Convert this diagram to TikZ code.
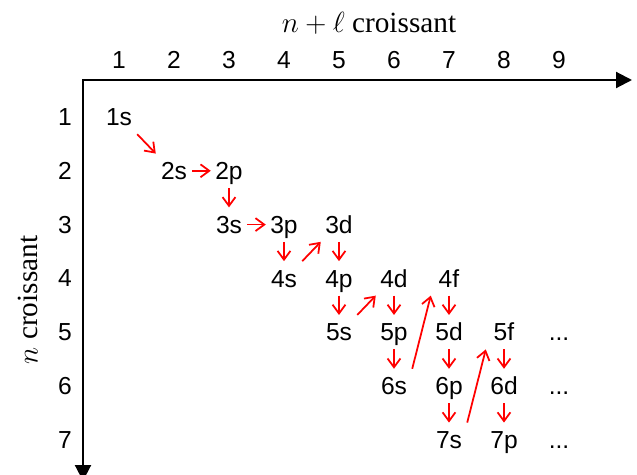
\documentclass[tikz,border=0pt]{standalone}
\usepackage{fontspec}
\setmainfont{Liberation Serif}
\newfontfamily\arialfont{Liberation Sans}
\usetikzlibrary{arrows.meta}

\begin{document}
\begin{tikzpicture}[x=0.03cm, y=-0.03cm,
  orb/.style={font=\arialfont\fontsize{21}{25}\selectfont, inner sep=0pt, minimum width=1.08cm, minimum height=1.02cm, text height=18pt, text depth=3pt},
  num/.style={font=\arialfont\fontsize{21}{25}\selectfont, inner sep=0pt},
  fl/.style={red, line width=1.5pt, -{Straight Barb[length=7.5pt,width=11pt]}},
  axe/.style={line width=1.8pt, {Triangle[length=13.6pt,width=13.6pt]}-{Triangle[length=13.6pt,width=13.6pt]}}]
\useasboundingbox (0,0) rectangle (637,475);
% axes
\coordinate (O) at (83,80);
\coordinate (xend) at (632,80);
\coordinate (yend) at (83,481);
\draw[axe] (yend) -- (O) -- (xend);
\node[font=\fontsize{25}{30}\selectfont] (titre) at (369,23) {$n+\ell$ croissant};
\node[font=\fontsize{25}{30}\selectfont, rotate=90] (titren) at (28,300) {$n$ croissant};
% n + l
\node[num] (c1) at (119,60) {1};
\node[num] (c2) at (174,60) {2};
\node[num] (c3) at (229,60) {3};
\node[num] (c4) at (284,60) {4};
\node[num] (c5) at (339,60) {5};
\node[num] (c6) at (394,60) {6};
\node[num] (c7) at (449,60) {7};
\node[num] (c8) at (504,60) {8};
\node[num] (c9) at (559,60) {9};
% n
\node[num] (r1) at (65,117) {1};
\node[num] (r2) at (65,170.8) {2};
\node[num] (r3) at (65,224.6) {3};
\node[num] (r4) at (65,278.4) {4};
\node[num] (r5) at (65,332.2) {5};
\node[num] (r6) at (65,386) {6};
\node[num] (r7) at (65,439.8) {7};
% orbitales
\node[orb] (s1) at (119,117) {1s};
\node[orb] (s2) at (174,170.8) {2s};
\node[orb] (p2) at (229,170.8) {2p};
\node[orb] (s3) at (229,224.6) {3s};
\node[orb] (p3) at (284,224.6) {3p};
\node[orb] (d3) at (339,224.6) {3d};
\node[orb] (s4) at (284,278.4) {4s};
\node[orb] (p4) at (339,278.4) {4p};
\node[orb] (d4) at (394,278.4) {4d};
\node[orb] (f4) at (449,278.4) {4f};
\node[orb] (s5) at (339,332.2) {5s};
\node[orb] (p5) at (394,332.2) {5p};
\node[orb] (d5) at (449,332.2) {5d};
\node[orb] (f5) at (504,332.2) {5f};
\node[orb] (e5) at (559,332.2) {...};
\node[orb] (s6) at (394,386) {6s};
\node[orb] (p6) at (449,386) {6p};
\node[orb] (d6) at (504,386) {6d};
\node[orb] (e6) at (559,386) {...};
\node[orb] (s7) at (449,439.8) {7s};
\node[orb] (p7) at (504,439.8) {7p};
\node[orb] (e7) at (559,439.8) {...};
% ordre de remplissage
\draw[fl] (s1.south east) -- (s2.north west);
\draw[fl] (s2.east) -- (p2.west);
\draw[fl] (p2.south) -- (s3.north);
\draw[fl] (s3.east) -- (p3.west);
\draw[fl] (p3.south) -- (s4.north);
\draw[fl] (s4.north east) -- (d3.south west);
\draw[fl] (d3.south) -- (p4.north);
\draw[fl] (p4.south) -- (s5.north);
\draw[fl] (s5.north east) -- (d4.south west);
\draw[fl] (d4.south) -- (p5.north);
\draw[fl] (p5.south) -- (s6.north);
\draw[fl] (s6.north east) -- (f4.south west);
\draw[fl] (f4.south) -- (d5.north);
\draw[fl] (d5.south) -- (p6.north);
\draw[fl] (p6.south) -- (s7.north);
\draw[fl] (s7.north east) -- (f5.south west);
\draw[fl] (f5.south) -- (d6.north);
\draw[fl] (d6.south) -- (p7.north);
\end{tikzpicture}
\end{document}
